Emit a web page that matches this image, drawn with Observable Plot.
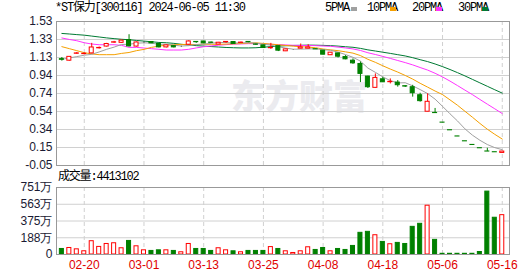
<!DOCTYPE html>
<html><head><meta charset="utf-8">
<script src="https://cdn.jsdelivr.net/npm/d3@7"></script>
<script src="https://cdn.jsdelivr.net/npm/@observablehq/plot@0.6"></script>
<style>
body{margin:0;background:#fff;}
#wrap{position:relative;width:530px;height:276px;overflow:hidden;background:#fff;}
.mono{position:absolute;font-size:12px;font-family:"Liberation Mono","Noto Sans CJK SC",monospace;letter-spacing:-1.2px;color:#000;white-space:nowrap;line-height:14px;}
.sw{position:absolute;width:6px;height:4px;}
#wm{position:absolute;left:231px;top:70px;font-size:34px;font-weight:900;font-family:"Noto Sans CJK SC";color:#ebebef;white-space:nowrap;}
#price,#vol{position:absolute;left:0;}
#price{top:0;}#vol{top:176px;}
</style></head><body>
<div id="wrap">
<div id="wm">东方财富</div>
<div id="price"></div>
<div id="vol"></div>
<div class="mono" style="left:55px;top:1px">*ST保力[300116] 2024-06-05 11:30</div>
<div class="mono" style="left:325px;top:1px">5PMA</div><div class="sw" style="left:351px;top:7px;background:#a0a0a0"></div>
<div class="mono" style="left:367px;top:1px">10PMA</div><div class="sw" style="left:390px;top:7px;background:#f5a000"></div>
<div class="mono" style="left:412px;top:1px">20PMA</div><div class="sw" style="left:436px;top:7px;background:#ff33ff"></div>
<div class="mono" style="left:458px;top:1px">30PMA</div><div class="sw" style="left:482px;top:7px;background:#007a33"></div>
<div class="mono" style="left:58px;top:170px">成交量:4413102</div>
</div>
<script>
// ---- data ----
const xTickIndex = [3, 11, 19, 27, 35, 43, 51, 59];
const xTickLabels = ["02-20", "03-01", "03-13", "03-25", "04-08", "04-18", "05-06", "05-16"];

const open  = [1.117,1.10,1.176,1.172,1.18,1.236,1.255,1.298,1.296,1.327,1.255,1.30,1.305,1.283,1.246,1.26,1.254,1.275,1.306,1.311,1.299,1.277,1.303,1.305,1.295,1.306,1.278,1.268,1.237,1.26,1.203,1.217,1.232,1.232,1.226,1.21,1.16,1.18,1.14,1.10,1.064,0.926,0.802,0.896,0.864,0.86,0.82,0.809,0.721,0.54,0.527,0.421,0.337,0.269,0.216,0.176,0.140,0.104,0.096,0.088];
const high  = [1.135,1.145,1.19,1.185,1.29,1.25,1.29,1.312,1.325,1.385,1.305,1.305,1.31,1.29,1.272,1.265,1.258,1.318,1.306,1.313,1.305,1.30,1.307,1.31,1.305,1.31,1.283,1.27,1.29,1.262,1.226,1.219,1.283,1.276,1.228,1.213,1.19,1.183,1.155,1.12,1.086,0.93,0.955,0.918,0.90,0.882,0.825,0.83,0.743,0.737,0.576,0.421,0.337,0.269,0.216,0.176,0.140,0.139,0.096,0.103];
const low   = [1.095,1.095,1.17,1.165,1.175,1.228,1.25,1.29,1.292,1.25,1.25,1.295,1.287,1.24,1.24,1.24,1.25,1.27,1.29,1.288,1.29,1.275,1.29,1.28,1.29,1.297,1.268,1.235,1.224,1.20,1.20,1.215,1.23,1.23,1.222,1.163,1.158,1.13,1.11,1.06,0.86,0.795,0.80,0.86,0.845,0.81,0.806,0.70,0.645,0.54,0.525,0.42,0.336,0.268,0.215,0.175,0.139,0.103,0.095,0.088];
const close = [1.11,1.142,1.18,1.176,1.245,1.24,1.283,1.302,1.32,1.257,1.30,1.30,1.29,1.246,1.268,1.246,1.254,1.311,1.303,1.29,1.296,1.297,1.306,1.283,1.298,1.303,1.275,1.239,1.24,1.21,1.224,1.217,1.246,1.246,1.224,1.166,1.188,1.144,1.115,1.071,0.955,0.809,0.911,0.863,0.868,0.831,0.816,0.743,0.656,0.649,0.525,0.42,0.336,0.268,0.215,0.175,0.139,0.103,0.095,0.103];
// volume in 万 (10k shares)
const volume = [62,73,58,36,149,85,118,126,70,152,92,47,40,47,47,40,25,118,62,62,40,70,47,36,25,40,40,40,83,62,36,17,36,81,51,73,36,62,51,96,243,254,216,141,115,130,118,310,344,547,164,8,8,8,8,8,28,705,412,441];

const ma5  = [1.115,1.13,1.145,1.16,1.17,1.196,1.225,1.249,1.278,1.28,1.292,1.296,1.293,1.279,1.281,1.27,1.261,1.265,1.277,1.281,1.291,1.30,1.299,1.294,1.296,1.297,1.293,1.28,1.271,1.253,1.238,1.226,1.227,1.229,1.231,1.22,1.214,1.194,1.167,1.137,1.095,1.019,0.972,0.922,0.881,0.856,0.858,0.824,0.783,0.739,0.678,0.599,0.517,0.439,0.352,0.283,0.227,0.18,0.146,0.124];
const ma10 = [1.254,1.232,1.21,1.188,1.174,1.166,1.166,1.166,1.18,1.19,1.21,1.224,1.246,1.26,1.27,1.275,1.278,1.279,1.277,1.281,1.28,1.28,1.282,1.285,1.288,1.294,1.296,1.289,1.282,1.274,1.267,1.259,1.253,1.249,1.242,1.228,1.219,1.21,1.197,1.183,1.156,1.115,1.082,1.044,1.008,0.975,0.938,0.898,0.852,0.81,0.767,0.728,0.67,0.611,0.545,0.48,0.412,0.348,0.292,0.24];
const ma20 = [1.349,1.333,1.319,1.297,1.283,1.275,1.275,1.275,1.268,1.246,1.246,1.239,1.232,1.225,1.217,1.217,1.217,1.225,1.24,1.253,1.262,1.27,1.276,1.282,1.284,1.287,1.287,1.284,1.28,1.277,1.273,1.269,1.267,1.267,1.265,1.261,1.258,1.249,1.24,1.229,1.212,1.187,1.168,1.147,1.125,1.102,1.079,1.054,1.025,0.997,0.962,0.922,0.876,0.827,0.777,0.728,0.675,0.623,0.572,0.52];
const ma30 = [1.399,1.393,1.386,1.38,1.37,1.36,1.35,1.342,1.335,1.33,1.322,1.315,1.308,1.30,1.297,1.29,1.28,1.272,1.265,1.26,1.255,1.25,1.245,1.242,1.24,1.24,1.242,1.248,1.254,1.26,1.264,1.267,1.269,1.271,1.27,1.268,1.265,1.26,1.253,1.247,1.235,1.219,1.206,1.193,1.18,1.166,1.152,1.133,1.111,1.09,1.064,1.035,1.003,0.969,0.933,0.895,0.857,0.819,0.781,0.744];

const yTickValues = [-0.05, 0.1475, 0.345, 0.5425, 0.74, 0.9375, 1.135, 1.3325, 1.53];
const yTickLabels = ["-0.05", "0.15", "0.34", "0.54", "0.74", "0.94", "1.13", "1.33", "1.53"];
const volTickValues = [0, 187.75, 375.5, 563.25, 751];
const volTickLabels = ["0", "188万", "375万", "563万", "751万"];

// ---- build ----
const RED = "#ff0000", GREEN = "#008000", GRID = "#d0d0d0", FRAME = "#999";
const maColors = {ma5: "#a0a0a0", ma10: "#f5a000", ma20: "#ff33ff", ma30: "#007a33"};
const bars = close.map((c, i) => ({i, o: open[i], h: high[i], l: low[i], c, v: volume[i]}));
const maRows = [];
for (const [k, arr] of [["ma5", ma5], ["ma10", ma10], ["ma20", ma20], ["ma30", ma30]])
  arr.forEach((v, i) => maRows.push({k, i, v}));
const dir = d => d.c > d.o ? 1 : d.c < d.o ? -1 : 0;
const cStroke = d => dir(d) > 0 ? RED : dir(d) < 0 ? GREEN : "#000";
const cFill = d => dir(d) > 0 ? "#fff" : dir(d) < 0 ? GREEN : "#000";
const vStroke = d => dir(d) >= 0 ? RED : GREEN;
const vFill = d => dir(d) >= 0 ? "#fff" : GREEN;
const xDomain = [-0.72, 59.97];
const yLab = new Map(yTickValues.map((v, k) => [v, yTickLabels[k]]));
const vLab = new Map(volTickValues.map((v, k) => [v, volTickLabels[k]]));
const xLab = new Map(xTickIndex.map((v, k) => [v, xTickLabels[k]]));
const HW = 0.27;

const price = Plot.plot({
  width: 530, height: 176, marginTop: 21, marginBottom: 11, marginLeft: 56, marginRight: 21,
  style: {background: "transparent", fontFamily: "Liberation Sans, Arial, sans-serif", fontSize: "12px"},
  x: {type: "linear", domain: xDomain, axis: null},
  y: {domain: [-0.05, 1.53], axis: null},
  marks: [
    Plot.ruleY(yTickValues, {stroke: GRID}),
    Plot.ruleX(xTickIndex, {stroke: GRID, strokeDasharray: "4,3"}),
    Plot.axisY(yTickValues, {tickSize: 0, tickPadding: 4, tickFormat: d => yLab.get(d), fontSize: 12, fill: "#1a1a33", label: null}),
    ...["ma30", "ma20", "ma10", "ma5"].map(k =>
      Plot.line(maRows.filter(r => r.k === k), {x: "i", y: "v", stroke: maColors[k], strokeWidth: 1})),
    Plot.ruleX(bars, {x: "i", y1: "l", y2: "h", stroke: cStroke}),
    Plot.rect(bars, {x1: d => d.i - HW, x2: d => d.i + HW, y1: d => Math.min(d.o, d.c), y2: d => Math.max(d.o, d.c), fill: cFill, stroke: cStroke}),
    Plot.frame({stroke: FRAME})
  ]
});
document.getElementById("price").append(price);

const vol = Plot.plot({
  width: 530, height: 100, marginTop: 11, marginBottom: 22, marginLeft: 56, marginRight: 21,
  style: {background: "transparent", fontFamily: "Liberation Sans, Arial, sans-serif", fontSize: "12px"},
  x: {type: "linear", domain: xDomain, axis: null},
  y: {domain: [0, 751], axis: null},
  marks: [
    Plot.ruleY(volTickValues, {stroke: GRID}),
    Plot.ruleX(xTickIndex, {stroke: GRID, strokeDasharray: "4,3"}),
    Plot.axisY(volTickValues, {tickSize: 0, tickPadding: 4, tickFormat: d => vLab.get(d), fontSize: 12, fill: "#1a1a33", label: null}),
    Plot.axisX(xTickIndex, {tickSize: 0, tickPadding: 6, tickFormat: d => xLab.get(d), fontSize: 12, fill: "#e00000", label: null}),
    Plot.rect(bars, {x1: d => d.i - HW, x2: d => d.i + HW, y1: 0, y2: "v", fill: vFill, stroke: vStroke}),
    Plot.frame({stroke: FRAME})
  ]
});
document.getElementById("vol").append(vol);
</script>
</body></html>
